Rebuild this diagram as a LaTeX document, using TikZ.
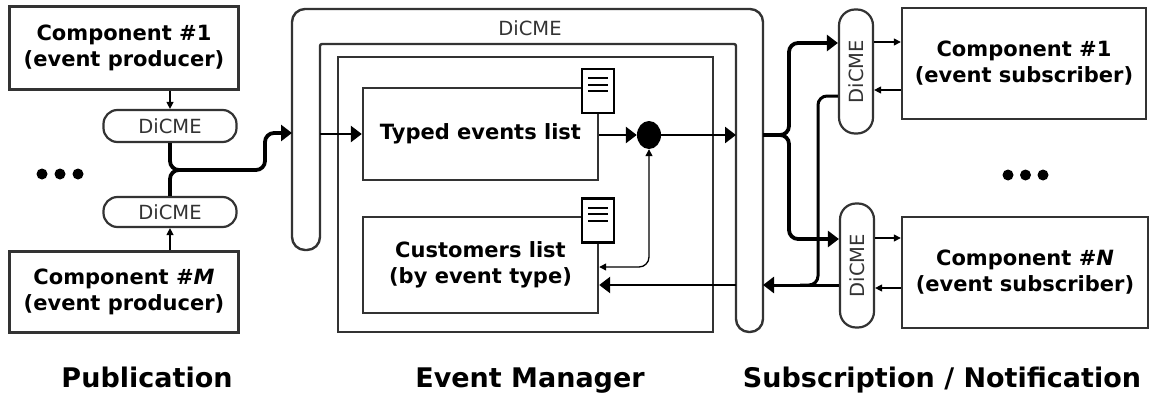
\documentclass[tikz,border=0pt]{standalone}
\usepackage{fontspec}
\setmainfont{DejaVu Sans}
\usetikzlibrary{positioning,arrows.meta,shapes.geometric}
\definecolor{framegray}{gray}{0.2}

\begin{document}
\begin{tikzpicture}[x = 1pt, y = -1pt, > = {Triangle[length=11pt,width=16pt]},
box/.style={ rectangle, draw = framegray, line width = 2.4pt, align = center, inner sep = 0pt, font = \fontsize{21}{26}\selectfont\bfseries },
compbox/.style={ box, minimum width = 229pt, minimum height = 83pt },
subbox/.style={ box, minimum width = 245pt, minimum height = 111pt },
listbox/.style={ box, minimum width = 235pt },
pill/.style={ rectangle, rounded corners = 14pt, draw = framegray, line width = 2.2pt, fill = white, inner sep = 0pt, text = framegray, font = \fontsize{19.5}{20}\selectfont },
hpill/.style={ pill, minimum width = 133pt, minimum height = 32pt },
vpill/.style={ pill, minimum width = 34pt, minimum height = 124pt, rounded corners = 16pt },
docicon/.style={ rectangle, draw, line width = 2.2pt, fill = white, minimum width = 32pt, minimum height = 44pt },
slimarrow/.style={ line width = 1.3pt, -{Triangle[length=7pt,width=7pt]} },
flowarrow/.style={ line width = 2.6pt, -> },
busarrow/.style={ line width = 3.8pt, -{Triangle[length=11pt,width=16pt]}, rounded corners = 9pt },
caption/.style={ font = \fontsize{27}{30}\selectfont\bfseries, anchor = base }]

\useasboundingbox (0,0) rectangle (1151,396);

%publication side
\node (comp1) [compbox] at (124,48) {Component \#1\\(event producer)};
\node (compM) [compbox, minimum height = 81pt] at (124,292) {Component \#\textit{M}\\(event producer)};
\node (pill1) [hpill] at (170,126) {DiCME};
\node (pill2) [hpill, minimum height = 30pt] at (170,212) {DiCME};
\foreach \i in {0,1,2}
{
\fill (42+18*\i,174) circle (5.5);
}
\draw [slimarrow] (comp1.south -| pill1.north) -- (pill1.north);
\draw [slimarrow] (compM.north -| pill2.south) -- (pill2.south);

%DiCME frame round the event manager
\draw [draw = framegray, line width = 2.4pt, rounded corners = 13pt] (292,250) -- (292,9) -- (763,9) -- (763,332) -- (736,332) [rounded corners = 2pt] -- (736,44) -- (320,44) [rounded corners = 13pt] -- (320,250) -- cycle;
\node (dicmelabel) [text = framegray, font = \fontsize{19.5}{20}\selectfont] at (530,28) {DiCME};
\coordinate (uLout) at (292,133);
\coordinate (uLin) at (320,133);
\coordinate (uRin) at (736,135);
\coordinate (uRout) at (763,135);

\node (evmgr) [rectangle, draw = framegray, line width = 2.4pt, minimum width = 375pt, minimum height = 275pt] at (525.5,194.5) {};
\node (typed) [listbox, minimum height = 92pt] at (480.5,134) {Typed events list};
\node (cust) [listbox, minimum height = 96pt] at (480.5,265) {Customers list\\(by event type)};
\node (doc1) [docicon] at (598,91) {};
\node (doc2) [docicon] at (598,220.5) {};
\foreach \d in {doc1,doc2}
{
\foreach \dy in {13,6.5,0}
\draw [line width = 2pt] ([xshift=-10pt, yshift=\dy pt]\d.center) -- ++(20pt,0);
}
\node (dot) [ellipse, fill, minimum width = 24pt, minimum height = 28pt, inner sep = 0pt] at (649,135) {};

\draw [flowarrow] (typed.west -| uLin) -- (typed.west);
\draw [flowarrow] (typed.east |- dot) -- (dot);
\draw [flowarrow] (dot) -- (dot -| uRin);
\coordinate (back1) at (0,267);
\coordinate (back2) at (0,285);
\draw [line width = 1.3pt, {Triangle[length=7pt,width=7pt]}-{Triangle[length=7pt,width=7pt]}, rounded corners = 10pt] (dot.south) -- (dot.south |- back1) -- (cust.east |- back1);
\draw [flowarrow] (uRin |- back2) -- (cust.east |- back2);

%publication bus
\coordinate (merge) at (170,170);
\draw [busarrow] (pill1.south) -- (merge) -- (265,170) -- (265,133) -- (uLout);
\draw [busarrow, -] (pill2.north) -- (merge) -- (200,170);

%subscription / notification side
\node (sp1) [vpill] at (856,71.5) {\rotatebox{90}{DiCME}};
\node (sp2) [vpill] at (857,265.5) {\rotatebox{90}{DiCME}};
\node (sc1) [subbox, minimum width = 244pt] at (1024,63.5) {Component \#1\\(event subscriber)};
\node (scN) [subbox, minimum width = 246pt] at (1025,272.5) {Component \#\textit{N}\\(event subscriber)};
\foreach \i in {0,1,2}
{
\fill (1008+17.5*\i,175) circle (5.5);
}
\coordinate (r1a) at (0,42);
\coordinate (r1b) at (0,90);
\coordinate (r2a) at (0,238);
\coordinate (r2b) at (0,288);
\draw [slimarrow] (sp1.east |- r1a) -- (sc1.west |- r1a);
\draw [slimarrow] (sc1.west |- r1b) -- (sp1.east |- r1b);
\draw [slimarrow] (sp2.east |- r2a) -- (scN.west |- r2a);
\draw [slimarrow] (scN.west |- r2b) -- (sp2.east |- r2b);

\coordinate (fork) at (789,135);
\coordinate (ret) at (818,96);
\draw [busarrow] (uRout) -- (fork) -- (789,43) -- (sp1.west |- 0,43);
\draw [busarrow] (uRout) -- (fork) -- (789,239) -- (sp2.west |- 0,239);
\draw [busarrow, -, line width = 3pt] (sp1.west |- ret) -- (ret) -- (818,285) -- (800,285);
\draw [busarrow, line width = 3pt] (sp2.west |- back2) -- (uRout |- back2);

%captions
\node (pub) [caption] at (147,387) {Publication};
\node (em) [caption] at (530,387) {Event Manager};
\node (subnot) [caption] at (942,387) {Subscription / Notification};

\end{tikzpicture}
\end{document}
